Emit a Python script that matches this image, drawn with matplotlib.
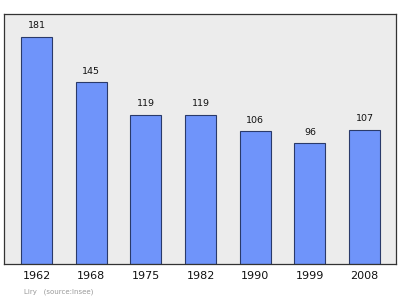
import matplotlib.pyplot as plt

years = ["1962", "1968", "1975", "1982", "1990", "1999", "2008"]
population = [181, 145, 119, 119, 106, 96, 107]

fig = plt.figure(figsize=(4.0, 2.99), dpi=100)
ax = fig.add_axes([4 / 400, 1 - 264 / 299, 391.6 / 400, 250 / 299])
ax.set_facecolor("#ececec")

x = range(len(years))
bars = ax.bar(x, population, width=0.567, color="#6f94fa",
              edgecolor="#2a3a6a", linewidth=0.8, zorder=2)
for xi, v in zip(x, population):
    ax.text(xi, v + 5, str(v), ha="center", va="bottom", fontsize=6.8,
            color="#111111")

ax.set_xlim(-0.594, 6.567)
ax.set_ylim(0, 199)
ax.set_yticks([])
ax.set_xticks(list(x))
ax.set_xticklabels(years, fontsize=8, color="#111111")
ax.tick_params(axis="x", length=0, pad=5)
for s in ax.spines.values():
    s.set_color("#333333")
    s.set_linewidth(0.9)

fig.text(24 / 400, 1 - 292 / 299, "Liry   (source:Insee)", fontsize=5,
         color="#999999", va="center")

fig.savefig("out.png", dpi=100)
